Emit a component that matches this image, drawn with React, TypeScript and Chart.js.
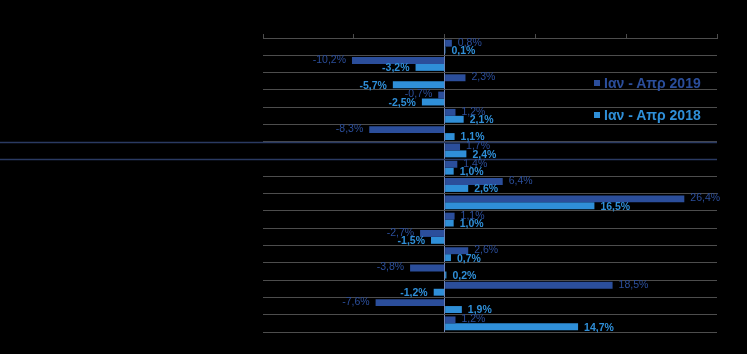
import React, { useEffect, useRef } from "react";
import { Chart, registerables } from "chart.js";

Chart.register(...registerables);

const categories = [
  "Κατηγορία 1", "Κατηγορία 2", "Κατηγορία 3", "Κατηγορία 4", "Κατηγορία 5", "Κατηγορία 6",
  "Κατηγορία 7", "Κατηγορία 8", "Κατηγορία 9", "Κατηγορία 10", "Κατηγορία 11", "Κατηγορία 12",
  "Κατηγορία 13", "Κατηγορία 14", "Κατηγορία 15", "Κατηγορία 16", "Κατηγορία 17",
];
const series2019 = [0.8, -10.2, 2.3, -0.7, 1.2, -8.3, 1.7, 1.4, 6.4, 26.4, 1.1, -2.7, 2.6, -3.8, 18.5, -7.6, 1.2];
const series2018 = [0.1, -3.2, -5.7, -2.5, 2.1, 1.1, 2.4, 1.0, 2.6, 16.5, 1.0, -1.5, 0.7, 0.2, -1.2, 1.9, 14.7];
const seriesNames = ["Ιαν - Απρ 2019", "Ιαν - Απρ 2018"];
const axisMin = -20;
const axisMax = 30;
const axisStep = 10;
const separatorIndices = [6, 7];

const DARK = "#2B4E9B";
const LIGHT = "#2F8FD8";
const GRID = "#4d4d4d";
const NAVY = "#2a3a62";
const ZERO = "#6f86b8";
const FONT = "'Liberation Sans', Arial, sans-serif";

const fmt = (v: number) => v.toFixed(1).replace(".", ",") + "%";

const labelPlugin = {
  id: "barLabels",
  afterDatasetsDraw(chart: any) {
    const ctx = chart.ctx;
    ctx.save();
    ctx.textBaseline = "middle";
    chart.data.datasets.forEach((ds: any, di: number) => {
      const meta = chart.getDatasetMeta(di);
      ctx.fillStyle = di === 0 ? DARK : LIGHT;
      ctx.font = (di === 0 ? "" : "bold ") + "10.5px " + FONT;
      meta.data.forEach((bar: any, i: number) => {
        const v = ds.data[i] as number;
        const txt = fmt(v);
        const dy = di === 0 ? -0.5 : 1;
        if (v >= 0) {
          ctx.textAlign = "left";
          ctx.fillText(txt, bar.x + 6, bar.y + dy);
        } else {
          ctx.textAlign = "right";
          ctx.fillText(txt, bar.x - 6, bar.y + dy);
        }
      });
    });
    ctx.restore();
  },
};

const separatorPlugin = {
  id: "separators",
  beforeDatasetsDraw(chart: any) {
    const y = chart.scales.y;
    const ctx = chart.ctx;
    const area = chart.chartArea;
    const n = categories.length;
    const step = (y.bottom - y.top) / n;
    ctx.save();
    ctx.strokeStyle = NAVY;
    ctx.lineWidth = 1.5;
    separatorIndices.forEach((idx) => {
      const py = Math.round(y.top + idx * step) + 0.5;
      ctx.beginPath();
      ctx.moveTo(0, py);
      ctx.lineTo(area.right, py);
      ctx.stroke();
    });
    ctx.restore();
  },
};

export default function App() {
  const ref = useRef<HTMLCanvasElement>(null);
  useEffect(() => {
    document.body.style.margin = "0";
    document.body.style.background = "#000";
    const chart = new Chart(ref.current!, {
      type: "bar",
      data: {
        labels: categories,
        datasets: [
          { label: seriesNames[0], data: series2019, backgroundColor: DARK, categoryPercentage: 0.8, barPercentage: 1.0 },
          { label: seriesNames[1], data: series2018, backgroundColor: LIGHT, categoryPercentage: 0.8, barPercentage: 1.0 },
        ],
      },
      options: {
        indexAxis: "y",
        animation: false,
        responsive: false,
        maintainAspectRatio: false,
        layout: { padding: { left: 263, right: 30, top: 34, bottom: 22 } },
        plugins: { legend: { display: false }, tooltip: { enabled: false } },
        scales: {
          x: {
            position: "top",
            min: axisMin,
            max: axisMax,
            ticks: { display: false, stepSize: axisStep },
            grid: {
              drawOnChartArea: true,
              color: (c: any) => (c.tick && c.tick.value === 0 ? ZERO : "rgba(0,0,0,0)"),
              tickColor: GRID,
              tickLength: 4,
            },
            border: { display: true, color: GRID },
          },
          y: {
            ticks: { display: false },
            grid: { drawTicks: false, color: GRID, offset: true },
            border: { display: false },
          },
        },
      },
      plugins: [separatorPlugin, labelPlugin],
    });
    return () => chart.destroy();
  }, []);

  const legendItem = (name: string, color: string, top: number) => (
    <div
      style={{
        position: "absolute",
        left: 594,
        top,
        display: "flex",
        alignItems: "center",
        color,
        font: `bold 14px ${FONT}`,
        whiteSpace: "nowrap",
      }}
    >
      <span style={{ display: "inline-block", width: 6, height: 6, background: color, marginRight: 4 }} />
      {name}
    </div>
  );

  return (
    <div style={{ position: "relative", width: 747, height: 354, background: "#000" }}>
      <canvas ref={ref} width={747} height={354} style={{ display: "block" }} />
      {legendItem(seriesNames[0], DARK, 75)}
      {legendItem(seriesNames[1], LIGHT, 107)}
    </div>
  );
}
